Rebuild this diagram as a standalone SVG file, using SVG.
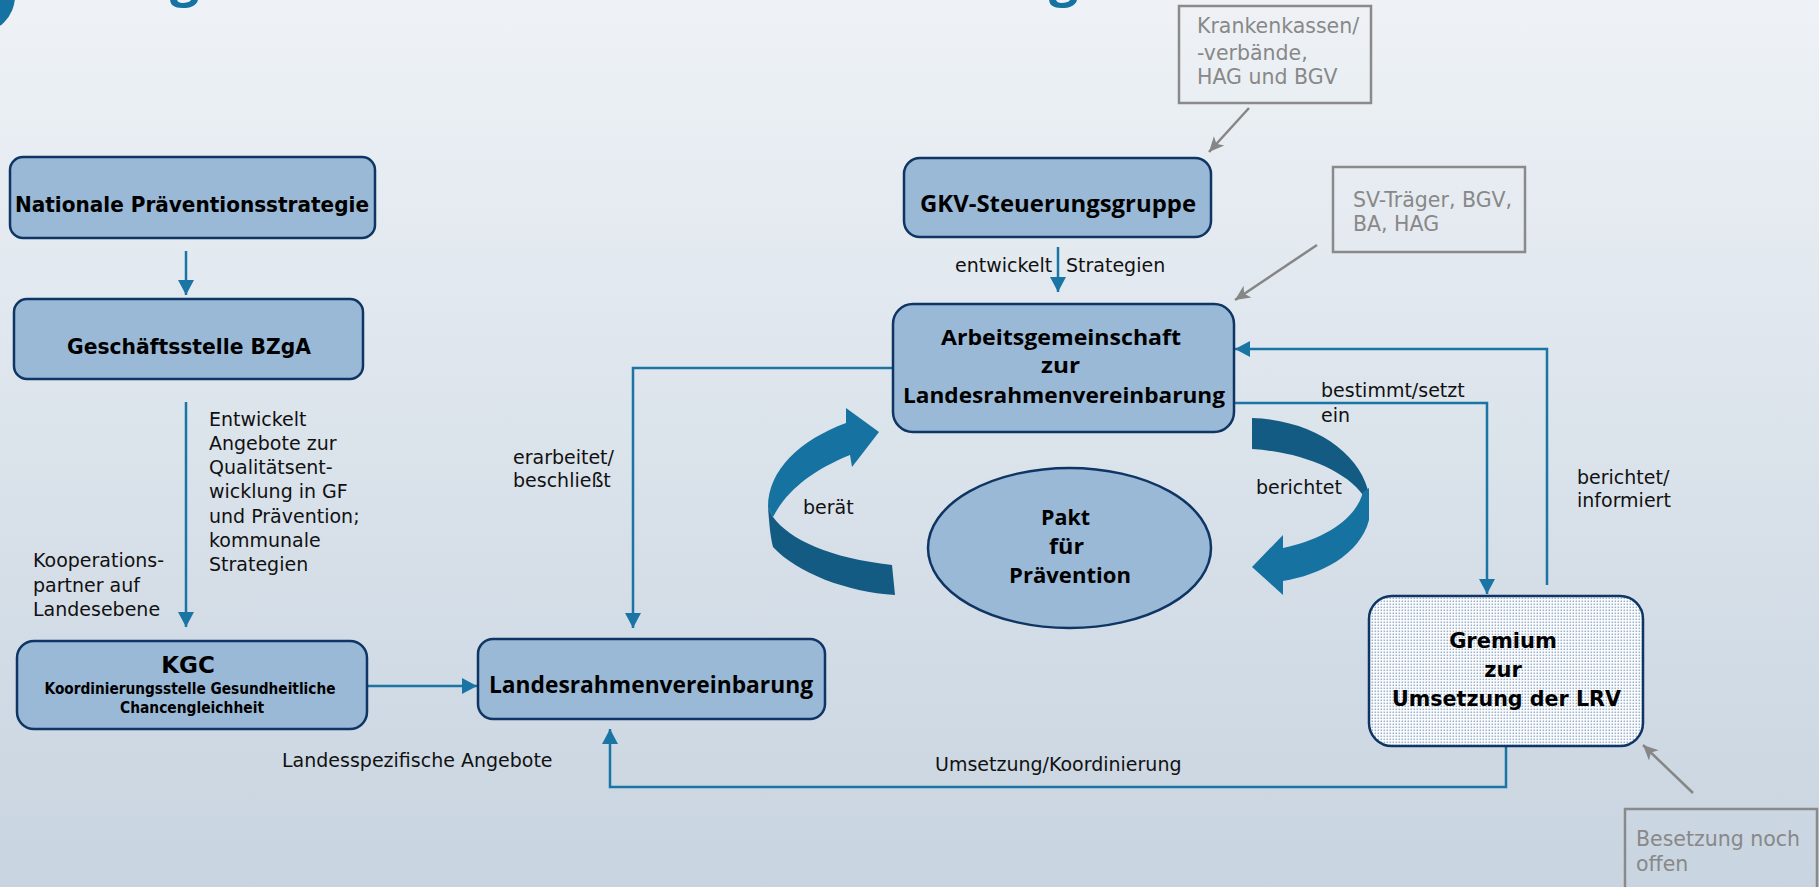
<svg xmlns="http://www.w3.org/2000/svg" width="1819" height="887" viewBox="0 0 1819 887">
<defs>
<linearGradient id="bg" x1="0" y1="0" x2="0" y2="1">
<stop offset="0" stop-color="#eef2f6"/>
<stop offset="1" stop-color="#c8d4e0"/>
</linearGradient>
<pattern id="dots" width="3" height="3" patternUnits="userSpaceOnUse">
<rect width="3" height="3" fill="#ffffff"/>
<rect x="0.5" y="0.5" width="1.6" height="1.6" fill="#9db3cc"/>
</pattern>
<marker id="ab" markerWidth="15" markerHeight="16" refX="15" refY="8" orient="auto" markerUnits="userSpaceOnUse">
<path d="M0,0 L15,8 L0,16 z" fill="#1a75a5"/>
</marker>
<marker id="ag" markerWidth="16" markerHeight="16" refX="15" refY="8" orient="auto" markerUnits="userSpaceOnUse">
<path d="M0,1 L15,8 L0,15 L4,8 z" fill="#868686"/>
</marker>
<style>
.box{fill:#9ab9d6;stroke:#0e3563;stroke-width:2.5}
.gbox{fill:none;stroke:#8a8a8a;stroke-width:2.5}
.t{font-family:"Open Sans","DejaVu Sans",sans-serif;font-weight:700;fill:#000;text-anchor:middle}
.tl{font-family:"DejaVu Sans","Noto Sans",sans-serif;font-weight:700;fill:#000;text-anchor:middle}
.lab{font-family:"DejaVu Sans","Noto Sans",sans-serif;font-size:19px;fill:#111}
.gt{font-family:"DejaVu Sans","Noto Sans",sans-serif;font-size:20.5px;fill:#888}
.c{fill:none;stroke:#1a75a5;stroke-width:2.5}
.g{fill:none;stroke:#868686;stroke-width:2.5}
</style>
</defs>
<rect width="1819" height="887" fill="url(#bg)"/>
<circle cx="-22" cy="-4" r="37" fill="#1672a0"/>
<text x="170" y="-5" font-family="Open Sans, sans-serif" font-weight="700" font-size="52" fill="#1672a0">g</text>
<text x="1049" y="-5" font-family="Open Sans, sans-serif" font-weight="700" font-size="52" fill="#1672a0">g</text>

<g id="connectors">
<path class="c" d="M186,251 V295" marker-end="url(#ab)"/>
<path class="c" d="M186,402 V627" marker-end="url(#ab)"/>
<path class="c" d="M367,686 H477" marker-end="url(#ab)"/>
<path class="c" d="M893,368 H633 V628" marker-end="url(#ab)"/>
<path class="c" d="M1058,247 V292" marker-end="url(#ab)"/>
<path class="c" d="M1234,403 H1487 V594" marker-end="url(#ab)"/>
<path class="c" d="M1547,585 V349 H1235" marker-end="url(#ab)"/>
<path class="c" d="M1506,747 V787 H610 V729" marker-end="url(#ab)"/>
<path class="g" d="M1249,108 L1209,152" marker-end="url(#ag)"/>
<path class="g" d="M1317,245 L1235,300" marker-end="url(#ag)"/>
<path class="g" d="M1693,793 L1643,745" marker-end="url(#ag)"/>
</g>

<g id="arrow-beraet">
<path d="M773,517 C790,540 830,558 892,565 L895,595 C847,592 797,573 773,547 C770,535 769,520 768,507 Z" fill="#135b82"/>
<path d="M768,507 C768,470 800,440 846,423 L846,408 L879,432 L852,467 L850,455 C813,470 787,490 773,517 Z" fill="#1672a0"/>
</g>
<g id="arrow-berichtet">
<path d="M1252,418 C1315,420 1362,455 1369,495 L1363,495 C1345,470 1300,452 1252,449 Z" fill="#135b82"/>
<path d="M1363,492 L1369,488 L1369,520 C1360,555 1320,575 1283,581 L1283,595 L1252,567 L1283,535 L1283,548 C1320,540 1355,522 1363,492 Z" fill="#1672a0"/>
</g>

<g id="node-nationale">
<rect class="box" x="10" y="157" width="365" height="81" rx="13"/>
<text class="tl" x="192" y="212" font-size="21" textLength="354" lengthAdjust="spacingAndGlyphs">Nationale Präventionsstrategie</text>
</g>
<g id="node-bzga">
<rect class="box" x="14" y="299" width="349" height="80" rx="13"/>
<text class="tl" x="189" y="354" font-size="22" textLength="244" lengthAdjust="spacingAndGlyphs">Geschäftsstelle BZgA</text>
</g>
<g id="node-kgc">
<rect class="box" x="17" y="641" width="350" height="88" rx="17"/>
<text class="tl" x="188" y="673" font-size="23">KGC</text>
<text class="tl" x="190" y="694" font-size="15" textLength="291" lengthAdjust="spacingAndGlyphs">Koordinierungsstelle Gesundheitliche</text>
<text class="tl" x="192" y="713" font-size="15" textLength="144" lengthAdjust="spacingAndGlyphs">Chancengleichheit</text>
</g>
<g id="node-gkv">
<rect class="box" x="904" y="158" width="307" height="79" rx="16"/>
<text class="t" x="1058" y="212" font-size="23" textLength="276" lengthAdjust="spacingAndGlyphs">GKV-Steuerungsgruppe</text>
</g>
<g id="node-ag">
<rect class="box" x="893" y="304" width="341" height="128" rx="20"/>
<text class="t" x="1061" y="345" font-size="22" textLength="240" lengthAdjust="spacingAndGlyphs">Arbeitsgemeinschaft</text>
<text class="t" x="1060.5" y="373" font-size="22" textLength="39" lengthAdjust="spacingAndGlyphs">zur</text>
<text class="t" x="1064" y="403" font-size="22" textLength="322" lengthAdjust="spacingAndGlyphs">Landesrahmenvereinbarung</text>
</g>
<g id="node-pakt">
<ellipse class="box" cx="1069.5" cy="548" rx="141.5" ry="80"/>
<text class="t" x="1065.5" y="525" font-size="22" textLength="49" lengthAdjust="spacingAndGlyphs">Pakt</text>
<text class="t" x="1066.5" y="554" font-size="22" textLength="35" lengthAdjust="spacingAndGlyphs">für</text>
<text class="t" x="1070" y="583" font-size="22" textLength="122" lengthAdjust="spacingAndGlyphs">Prävention</text>
</g>
<g id="node-lrv">
<rect class="box" x="478" y="639" width="347" height="80" rx="15"/>
<text class="t" x="651" y="693" font-size="23" textLength="324" lengthAdjust="spacingAndGlyphs">Landesrahmenvereinbarung</text>
</g>
<g id="node-gremium">
<rect x="1369" y="596" width="274" height="150" rx="23" fill="url(#dots)" stroke="#0e3563" stroke-width="2.5"/>
<text class="tl" x="1503" y="648" font-size="21">Gremium</text>
<text class="tl" x="1503" y="677" font-size="21">zur</text>
<text class="tl" x="1506.5" y="706" font-size="21" textLength="229" lengthAdjust="spacingAndGlyphs">Umsetzung der LRV</text>
</g>
<g id="node-kk">
<rect class="gbox" x="1179" y="6" width="192" height="97"/>
<text class="gt" x="1197" y="33">Krankenkassen/</text>
<text class="gt" x="1197" y="60">-verbände,</text>
<text class="gt" x="1197" y="84">HAG und BGV</text>
</g>
<g id="node-sv">
<rect class="gbox" x="1333" y="167" width="192" height="85"/>
<text class="gt" x="1353" y="207">SV-Träger, BGV,</text>
<text class="gt" x="1353" y="231">BA, HAG</text>
</g>
<g id="node-besetzung">
<rect class="gbox" x="1625" y="809" width="192" height="90"/>
<text class="gt" x="1636" y="846">Besetzung noch</text>
<text class="gt" x="1636" y="871">offen</text>
</g>

<g id="labels">
<text class="lab" x="209" y="426">Entwickelt</text>
<text class="lab" x="209" y="450">Angebote zur</text>
<text class="lab" x="209" y="474">Qualitätsent-</text>
<text class="lab" x="209" y="498">wicklung in GF</text>
<text class="lab" x="209" y="523">und Prävention;</text>
<text class="lab" x="209" y="547">kommunale</text>
<text class="lab" x="209" y="571">Strategien</text>
<text class="lab" x="33" y="567">Kooperations-</text>
<text class="lab" x="33" y="592">partner auf</text>
<text class="lab" x="33" y="616">Landesebene</text>
<text class="lab" x="955" y="272">entwickelt</text>
<text class="lab" x="1066" y="272">Strategien</text>
<text class="lab" x="513" y="464">erarbeitet/</text>
<text class="lab" x="513" y="487">beschließt</text>
<text class="lab" x="803" y="514">berät</text>
<text class="lab" x="1256" y="494">berichtet</text>
<text class="lab" x="1321" y="397">bestimmt/setzt</text>
<text class="lab" x="1321" y="422">ein</text>
<text class="lab" x="1577" y="484">berichtet/</text>
<text class="lab" x="1577" y="507">informiert</text>
<text class="lab" x="282" y="767">Landesspezifische Angebote</text>
<text class="lab" x="935" y="771">Umsetzung/Koordinierung</text>
</g>
</svg>
